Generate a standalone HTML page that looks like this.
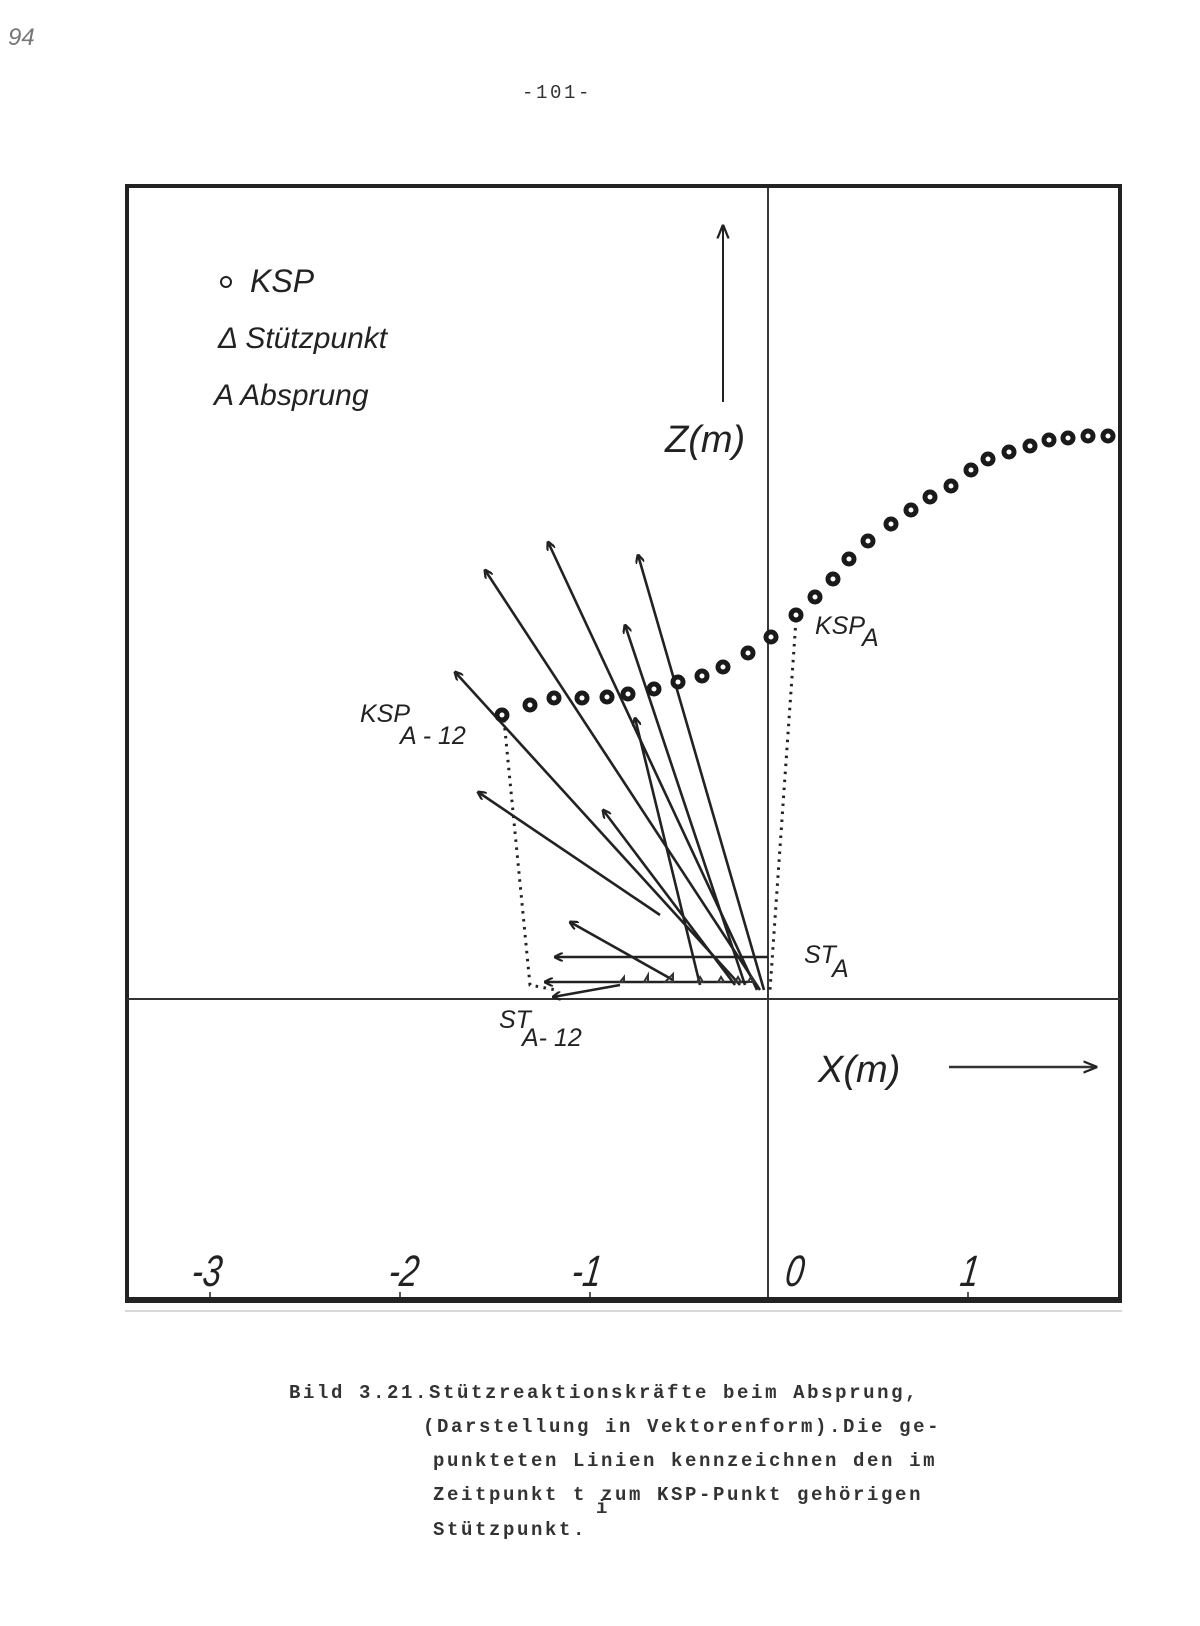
<!DOCTYPE html>
<html><head><meta charset="utf-8"><style>
html,body{margin:0;padding:0;background:#fff;}
body{width:1200px;height:1626px;position:relative;overflow:hidden;}
svg{position:absolute;left:0;top:0;}
.hand{font-family:"Liberation Sans",sans-serif;font-style:italic;fill:#222;}
.mono{font-family:"Liberation Mono",monospace;fill:#333;font-size:19px;letter-spacing:2.6px;font-weight:bold;}
</style></head><body>
<svg width="1200" height="1626" viewBox="0 0 1200 1626" xmlns="http://www.w3.org/2000/svg">
<defs>
<marker id="ah" viewBox="0 0 10 10" refX="9" refY="5" markerWidth="9" markerHeight="9" orient="auto-start-reverse" markerUnits="userSpaceOnUse">
<path d="M0,0 L10,5 L0,10" fill="none" stroke="#222" stroke-width="2.5"/></marker>
<marker id="ah2" viewBox="0 0 10 10" refX="9" refY="5" markerWidth="14" markerHeight="14" orient="auto" markerUnits="userSpaceOnUse">
<path d="M0,1 L10,5 L0,9" fill="none" stroke="#222" stroke-width="1.6"/></marker>
</defs>
<text x="8" y="45" class="hand" font-size="24" style="fill:#777">94</text>
<text x="557" y="98" class="mono" text-anchor="middle" font-size="17" style="font-weight:normal">-101-</text>
<!-- frame -->
<rect x="127" y="186" width="993" height="1115" fill="none" stroke="#222" stroke-width="4"/>
<line x1="125" y1="1300" x2="1122" y2="1300" stroke="#222" stroke-width="6"/>
<line x1="125" y1="1311" x2="1122" y2="1311" stroke="#ccc" stroke-width="1.5"/>
<!-- axes -->
<line x1="768" y1="186" x2="768" y2="1300" stroke="#222" stroke-width="1.8"/>
<line x1="127" y1="999" x2="1120" y2="999" stroke="#333" stroke-width="2"/>
<!-- ticks -->
<g stroke="#222" stroke-width="1.5"><line x1="210" y1="1292" x2="210" y2="1300"/><line x1="400" y1="1292" x2="400" y2="1300"/><line x1="590" y1="1292" x2="590" y2="1300"/><line x1="968" y1="1292" x2="968" y2="1300"/></g>
<g class="hand" font-size="44" font-style="normal">
<text transform="translate(205,1286) skewX(-8) scale(0.75,1)" text-anchor="middle">-3</text>
<text transform="translate(402,1286) skewX(-8) scale(0.75,1)" text-anchor="middle">-2</text>
<text transform="translate(585,1286) skewX(-8) scale(0.75,1)" text-anchor="middle">-1</text>
<text transform="translate(793,1286) skewX(-8) scale(0.75,1)" text-anchor="middle">0</text>
<text transform="translate(968,1286) skewX(-8) scale(0.75,1)" text-anchor="middle">1</text>
</g>
<!-- legend -->
<circle cx="226" cy="282" r="5" fill="none" stroke="#222" stroke-width="2"/>
<text x="250" y="292" class="hand" font-size="32">KSP</text>
<text x="218" y="348" class="hand" font-size="30">Δ Stützpunkt</text>
<text x="214" y="405" class="hand" font-size="30">A Absprung</text>
<!-- Z arrow -->
<line x1="723" y1="402" x2="723" y2="226" stroke="#222" stroke-width="2" marker-end="url(#ah2)"/>
<text x="665" y="452" class="hand" font-size="38">Z(m)</text>
<!-- X arrow -->
<line x1="949" y1="1067" x2="1096" y2="1067" stroke="#333" stroke-width="2.5" marker-end="url(#ah2)"/>
<text x="818" y="1082" class="hand" font-size="38">X(m)</text>
<!-- dotted lines -->
<polyline points="504,720 530,985 556,990" fill="none" stroke="#222" stroke-width="3" stroke-dasharray="2.5,5.5"/>
<polyline points="796,620 770,990" fill="none" stroke="#222" stroke-width="3" stroke-dasharray="2.5,5.5"/>
<!-- arrows -->
<g stroke="#222" stroke-width="2.6" fill="none" marker-end="url(#ah)">
<line x1="760" y1="990" x2="485" y2="570"/>
<line x1="757" y1="990" x2="548" y2="542"/>
<line x1="764" y1="990" x2="638" y2="555"/>
<line x1="745" y1="985" x2="625" y2="625"/>
<line x1="740" y1="985" x2="455" y2="672"/>
<line x1="660" y1="915" x2="478" y2="792"/>
<line x1="700" y1="985" x2="635" y2="718"/>
<line x1="735" y1="985" x2="603" y2="810"/>
<line x1="673" y1="980" x2="570" y2="922"/>
<line x1="768" y1="957" x2="555" y2="957"/>
<line x1="748" y1="982" x2="545" y2="982"/>
<line x1="620" y1="985" x2="553" y2="997"/>
</g>
<g stroke="#333" stroke-width="2" fill="none">
<path d="M665,982 l8,-8 v8z"/><path d="M697,982 l3,-5 l3,5z"/><path d="M718,982 l3,-5 l3,5z"/><path d="M735,982 l3,-5 l3,5z"/><path d="M748,982 l3,-5 l3,5z"/>
<path d="M644,982 l4,-7 v7z"/><path d="M620,982 l4,-5 v5z"/>
</g>
<!-- KSP dots -->
<g fill="#fff" stroke="#1a1a1a" stroke-width="5">
<circle cx="502" cy="715" r="5"/><circle cx="530" cy="705" r="5"/><circle cx="554" cy="698" r="5"/><circle cx="582" cy="698" r="5"/><circle cx="607" cy="697" r="5"/><circle cx="628" cy="694" r="5"/><circle cx="654" cy="689" r="5"/><circle cx="678" cy="682" r="5"/><circle cx="702" cy="676" r="5"/><circle cx="723" cy="667" r="5"/><circle cx="748" cy="653" r="5"/><circle cx="771" cy="637" r="5"/><circle cx="796" cy="615" r="5"/><circle cx="815" cy="597" r="5"/><circle cx="833" cy="579" r="5"/><circle cx="849" cy="559" r="5"/><circle cx="868" cy="541" r="5"/><circle cx="891" cy="524" r="5"/><circle cx="911" cy="510" r="5"/><circle cx="930" cy="497" r="5"/><circle cx="951" cy="486" r="5"/><circle cx="971" cy="470" r="5"/><circle cx="988" cy="459" r="5"/><circle cx="1009" cy="452" r="5"/><circle cx="1030" cy="446" r="5"/><circle cx="1049" cy="440" r="5"/><circle cx="1068" cy="438" r="5"/><circle cx="1088" cy="436" r="5"/><circle cx="1108" cy="436" r="5"/>
</g>
<!-- labels -->
<text x="360" y="722" class="hand" font-size="25">KSP</text><text x="400" y="744" class="hand" font-size="25">A - 12</text>
<text x="815" y="634" class="hand" font-size="25">KSP</text><text x="862" y="646" class="hand" font-size="25">A</text>
<text x="804" y="963" class="hand" font-size="25">ST</text><text x="832" y="977" class="hand" font-size="25">A</text>
<text x="499" y="1028" class="hand" font-size="25">ST</text><text x="522" y="1046" class="hand" font-size="25">A- 12</text>
<!-- caption -->
<text x="289" y="1398" class="mono">Bild 3.21.Stützreaktionskräfte beim Absprung,</text>
<text x="423" y="1432" class="mono">(Darstellung in Vektorenform).Die ge-</text>
<text x="433" y="1466" class="mono">punkteten Linien kennzeichnen den im</text>
<text x="433" y="1500" class="mono">Zeitpunkt t zum KSP-Punkt gehörigen</text>
<text x="596" y="1513" class="mono" font-size="15">i</text>
<text x="433" y="1535" class="mono">Stützpunkt.</text>
</svg>
</body></html>
